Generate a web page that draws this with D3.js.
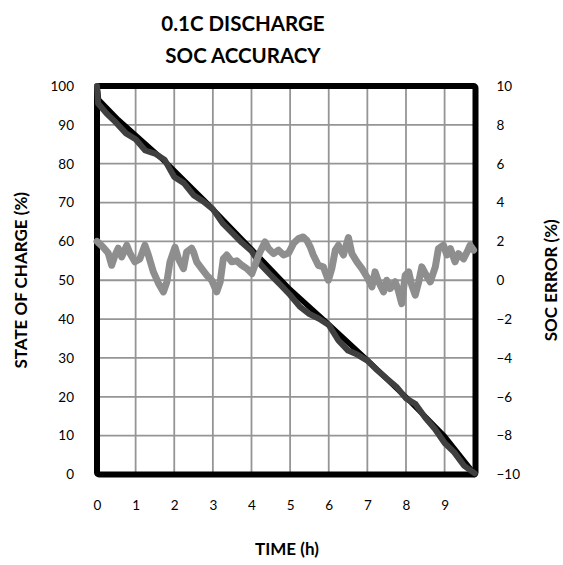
<!DOCTYPE html>
<html>
<head>
<meta charset="utf-8">
<script src="https://cdn.jsdelivr.net/npm/d3@7"></script>
<style>
  html, body { margin: 0; padding: 0; background: #fff; }
  svg { display: block; font-family: Lato, "Open Sans", sans-serif; }
</style>
</head>
<body>
<svg id="chart" width="563" height="565"></svg>
<script>
// ---- data ----
const titleLines = ["0.1C DISCHARGE", "SOC ACCURACY"];
const xLabel = "TIME (h)";
const yLeftLabel = "STATE OF CHARGE (%)";
const yRightLabel = "SOC ERROR (%)";

const hourTicks = [0, 1, 2, 3, 4, 5, 6, 7, 8, 9];
const socTicks = [0, 10, 20, 30, 40, 50, 60, 70, 80, 90, 100];
const errTicks = [-10, -8, -6, -4, -2, 0, 2, 4, 6, 8, 10];

// reference (true) SOC, black
const trueT   = [0, 0.04, 0.55, 1.71, 2.75, 3.75, 4.22, 5, 6, 7, 8, 9, 9.78];
const trueSOC = [100, 96.5, 91.3, 81, 70.8, 60.5, 55.7, 47.6, 38.6, 29.4, 19.9, 9.8, 0];

// estimated SOC, dark gray
const estT   = [0, 0.03, 0.25, 0.5, 0.75, 1.0, 1.25, 1.5, 1.75, 2.0, 2.25, 2.5, 2.75, 3.0, 3.25, 3.5, 3.75, 4.0, 4.25, 4.5, 4.75, 5.0, 5.25, 5.5, 5.75, 6.0, 6.25, 6.5, 6.75, 7.0, 7.25, 7.5, 7.75, 8.0, 8.25, 8.5, 8.75, 9.0, 9.25, 9.5, 9.78];
const estSOC = [100, 95.5, 92.9, 90.5, 87.8, 86.3, 83.4, 82.6, 81.0, 76.6, 75.0, 71.9, 70.3, 68.3, 64.7, 62.2, 59.7, 57.5, 53.9, 51.3, 48.8, 46.2, 43.2, 41.3, 40.1, 38.5, 34.5, 31.9, 30.8, 29.3, 26.9, 24.7, 22.6, 19.6, 18.1, 14.6, 11.7, 8.1, 5.7, 2.3, 0.3];

// SOC error, light gray (right axis)
const errT = [0, 0.03, 0.16, 0.29, 0.38, 0.47, 0.55, 0.64, 0.77, 0.85, 0.98, 1.11, 1.24, 1.33, 1.46, 1.59, 1.72, 1.81, 1.89, 2.02, 2.11, 2.24, 2.32, 2.45, 2.5, 2.58, 2.71, 2.84, 2.97, 3.1, 3.19, 3.27, 3.36, 3.49, 3.62, 3.75, 3.88, 4.01, 4.09, 4.22, 4.35, 4.44, 4.57, 4.7, 4.83, 4.96, 5.09, 5.22, 5.34, 5.43, 5.52, 5.6, 5.73, 5.86, 5.99, 6.08, 6.17, 6.25, 6.38, 6.51, 6.6, 6.73, 6.86, 6.99, 7.12, 7.2, 7.29, 7.42, 7.5, 7.59, 7.72, 7.8, 7.89, 7.98, 8.07, 8.15, 8.24, 8.33, 8.41, 8.5, 8.63, 8.76, 8.84, 8.97, 9.06, 9.15, 9.27, 9.36, 9.49, 9.58, 9.66, 9.75];
const errVal = [2.0, 1.95, 1.7, 1.4, 0.77, 1.3, 1.65, 1.2, 1.8, 1.4, 0.95, 1.1, 1.8, 1.3, 0.43, -0.15, -0.6, -0.08, 0.95, 1.7, 1.1, 0.6, 1.45, 1.65, 1.45, 0.95, 0.6, 0.26, 0, -0.6, -0.08, 1.1, 1.3, 0.95, 1.0, 0.77, 0.6, 0.34, 0.77, 1.45, 1.97, 1.63, 1.37, 1.55, 1.3, 1.4, 1.9, 2.15, 2.23, 2.06, 1.72, 1.3, 0.77, 0.69, 0, 0.6, 1.55, 1.8, 1.3, 2.2, 1.37, 0.95, 0.6, 0.17, -0.34, 0.43, -0.08, -0.6, 0, -0.43, -0.08, -0.52, -1.2, 0.26, 0.43, -0.26, -0.77, -0.08, 0.69, 0.34, -0.08, 0.69, 1.63, 1.8, 1.3, 1.63, 0.95, 1.37, 1.1, 1.45, 1.8, 1.55];

// ---- layout ----
const svg = d3.select("#chart");
const L = 97, R = 475.5, T = 86, B = 474.5;

const x = d3.scaleLinear().domain([0, 9.8]).range([L, R]);
const yL = d3.scaleLinear().domain([0, 100]).range([B, T]);
const yR = d3.scaleLinear().domain([-10, 10]).range([B, T]);

// grid
const grid = svg.append("g");
grid.selectAll("line.v").data(hourTicks.slice(1)).join("line")
  .attr("x1", d => x(d)).attr("x2", d => x(d))
  .attr("y1", T).attr("y2", B)
  .attr("stroke", "#959595").attr("stroke-width", 1.8);
grid.selectAll("line.h").data(socTicks.slice(1, -1)).join("line")
  .attr("x1", L).attr("x2", R)
  .attr("y1", d => yL(d)).attr("y2", d => yL(d))
  .attr("stroke", "#959595").attr("stroke-width", 1.8);

// border
svg.append("rect")
  .attr("x", L).attr("y", T).attr("width", R - L).attr("height", B - T)
  .attr("fill", "none").attr("stroke", "#000").attr("stroke-width", 6)
  .attr("rx", 2);

// axes (text only, no domain lines)
const tickFont = 13.5;
const xAxis = svg.append("g").attr("transform", `translate(0,${B + 26})`)
  .call(d3.axisBottom(x).tickValues(hourTicks).tickSize(0).tickFormat(d3.format("d")));
const yAxisL = svg.append("g").attr("transform", `translate(${L - 23},0)`)
  .call(d3.axisLeft(yL).tickValues(socTicks).tickSize(0).tickFormat(d3.format("d")));
const yAxisR = svg.append("g").attr("transform", `translate(${R + 21},0)`)
  .call(d3.axisRight(yR).tickValues(errTicks).tickSize(0).tickFormat(d3.format("d")));
[xAxis, yAxisL, yAxisR].forEach(g => {
  g.select(".domain").remove();
  g.selectAll("text").attr("font-family", "Lato, sans-serif").attr("font-size", tickFont).attr("fill", "#000");
});
yAxisL.selectAll("text").attr("x", 0);
yAxisR.selectAll("text").attr("x", 0);
xAxis.selectAll("text").attr("y", 0).attr("dy", "0.71em");

// lines
const pts = (ts, vs) => ts.map((t, i) => [t, vs[i]]);
const lineL = d3.line().x(d => x(d[0])).y(d => yL(d[1]));
const lineR = d3.line().x(d => x(d[0])).y(d => yR(d[1]));

svg.append("path").datum(pts(trueT, trueSOC)).attr("d", lineL)
  .attr("fill", "none").attr("stroke", "#000").attr("stroke-width", 5.5)
  .attr("stroke-linejoin", "round").attr("stroke-linecap", "round");
svg.append("path").datum(pts(estT, estSOC)).attr("d", lineL)
  .attr("fill", "none").attr("stroke", "#404040").attr("stroke-width", 6)
  .attr("stroke-linejoin", "round").attr("stroke-linecap", "round");
svg.append("path").datum(pts(errT, errVal)).attr("d", lineR)
  .attr("fill", "none").attr("stroke", "#8e8e8e").attr("stroke-width", 7)
  .attr("stroke-linejoin", "round").attr("stroke-linecap", "round");

// titles
const title = svg.append("text").attr("text-anchor", "middle")
  .attr("font-family", "Lato, sans-serif").attr("font-weight", "bold").attr("font-size", 20.5);
title.selectAll("tspan").data(titleLines).join("tspan")
  .attr("x", 243).attr("y", (d, i) => 31 + i * 32).text(d => d);

const axisTitleSize = 17;
svg.append("text").attr("x", 287).attr("y", 555).attr("text-anchor", "middle")
  .attr("font-family", "Lato, sans-serif").attr("font-weight", "bold").attr("font-size", axisTitleSize)
  .text(xLabel);
svg.append("text").attr("transform", `translate(27,${(T + B) / 2}) rotate(-90)`)
  .attr("text-anchor", "middle")
  .attr("font-family", "Lato, sans-serif").attr("font-weight", "bold").attr("font-size", axisTitleSize)
  .text(yLeftLabel);
svg.append("text").attr("transform", `translate(557,${(T + B) / 2}) rotate(-90)`)
  .attr("text-anchor", "middle")
  .attr("font-family", "Lato, sans-serif").attr("font-weight", "bold").attr("font-size", axisTitleSize)
  .text(yRightLabel);
</script>
</body>
</html>
